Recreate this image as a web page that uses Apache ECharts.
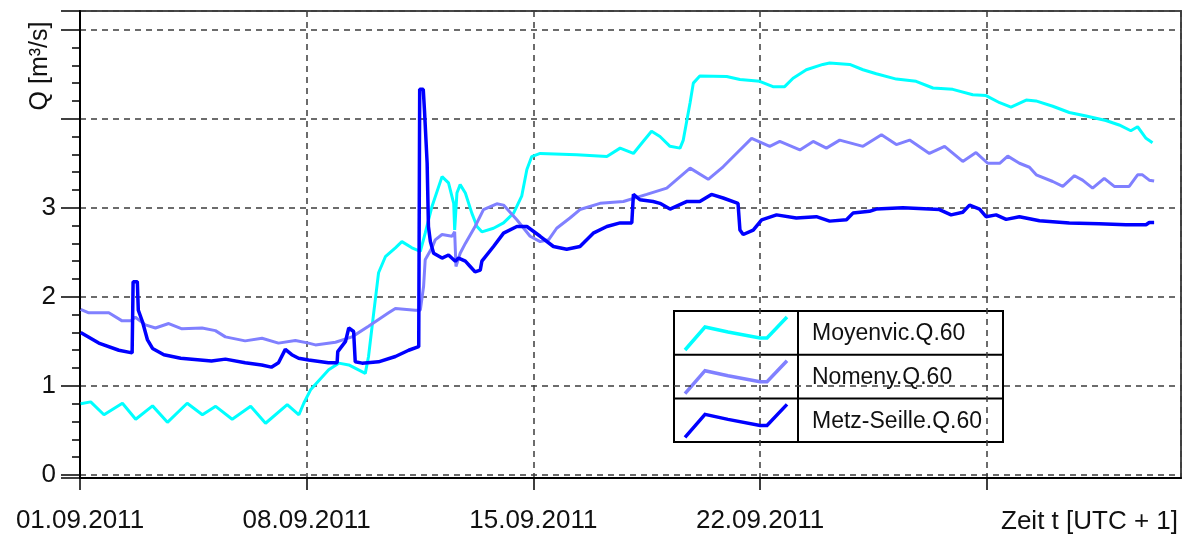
<!DOCTYPE html>
<html>
<head>
<meta charset="utf-8">
<title>Abfluss September 2011</title>
<script src="https://cdn.jsdelivr.net/npm/echarts@6/dist/echarts.min.js"></script>
<style>
  html, body { margin: 0; padding: 0; background: #fff; }
  #main { width: 1182px; height: 537px; }
</style>
</head>
<body>
<div id="main"></div>
<script>
// [day since 01.09.2011 00:00, Q in m³/s]
const moyenvic = [
  [0.02,0.80],[0.33,0.82],[0.74,0.675],[1.31,0.805],[1.72,0.625],[2.24,0.775],[2.70,0.59],[3.31,0.805],
  [3.78,0.675],[4.19,0.77],[4.70,0.625],[5.27,0.77],[5.73,0.58],[6.40,0.79],[6.76,0.675],[6.91,0.805],
  [7.12,0.955],[7.68,1.18],[7.99,1.255],[8.30,1.235],[8.81,1.14],[8.91,1.33],[9.07,1.82],[9.22,2.27],
  [9.43,2.45],[9.74,2.55],[9.94,2.62],[10.25,2.55],[10.51,2.51],[10.66,2.715],[10.87,3.015],[11.18,3.35],
  [11.38,3.28],[11.54,3.05],[11.57,2.75],[11.64,3.165],[11.74,3.26],[11.90,3.165],[12.10,2.94],[12.26,2.79],
  [12.41,2.73],[12.77,2.77],[13.08,2.83],[13.39,2.94],[13.64,3.13],[13.80,3.43],[13.95,3.575],[14.21,3.61],
  [15.34,3.595],[16.27,3.575],[16.68,3.67],[17.09,3.61],[17.39,3.745],[17.65,3.86],[17.91,3.80],[18.22,3.69],
  [18.53,3.67],[18.63,3.76],[18.84,4.18],[18.94,4.40],[19.14,4.48],[19.97,4.475],[20.38,4.44],[20.99,4.42],
  [21.40,4.36],[21.76,4.36],[22.02,4.455],[22.43,4.55],[22.94,4.61],[23.15,4.625],[23.77,4.61],[24.18,4.55],
  [24.59,4.505],[25.21,4.445],[25.82,4.42],[26.34,4.345],[26.95,4.33],[27.57,4.27],[27.98,4.26],[28.40,4.18],
  [28.75,4.13],[29.22,4.21],[29.52,4.20],[30.04,4.14],[30.55,4.07],[31.07,4.03],[31.68,3.98],[32.09,3.93],
  [32.45,3.865],[32.66,3.91],[32.92,3.78],[33.12,3.73]
];
const nomeny = [
  [0.02,1.86],[0.27,1.82],[0.89,1.82],[1.30,1.73],[1.56,1.73],[1.71,1.77],[2.02,1.685],[2.33,1.65],
  [2.74,1.70],[3.15,1.64],[3.77,1.65],[4.18,1.62],[4.49,1.55],[5.10,1.505],[5.62,1.535],[6.13,1.48],
  [6.65,1.51],[7.06,1.48],[7.27,1.46],[7.89,1.49],[8.40,1.55],[8.91,1.67],[9.53,1.82],[9.74,1.87],
  [10.35,1.85],[10.51,1.85],[10.61,2.115],[10.66,2.415],[10.87,2.55],[10.97,2.64],[11.18,2.70],[11.49,2.68],
  [11.57,2.73],[11.61,2.34],[11.74,2.49],[11.90,2.60],[12.20,2.79],[12.46,2.98],[12.87,3.045],[13.08,3.03],
  [13.49,2.865],[13.90,2.68],[14.21,2.62],[14.47,2.64],[14.72,2.77],[15.13,2.885],[15.44,2.98],[16.06,3.05],
  [16.78,3.07],[17.50,3.15],[18.12,3.22],[18.84,3.445],[19.40,3.32],[19.86,3.46],[20.27,3.61],[20.74,3.78],
  [21.30,3.69],[21.61,3.745],[22.23,3.65],[22.64,3.745],[23.05,3.67],[23.46,3.76],[24.18,3.69],[24.75,3.82],
  [25.21,3.71],[25.62,3.76],[26.23,3.61],[26.70,3.69],[27.26,3.52],[27.67,3.62],[28.03,3.50],[28.40,3.50],
  [28.65,3.58],[29.01,3.50],[29.32,3.455],[29.53,3.37],[30.04,3.295],[30.35,3.24],[30.71,3.36],[30.96,3.31],
  [31.27,3.22],[31.63,3.33],[31.94,3.24],[32.40,3.24],[32.66,3.37],[32.81,3.37],[33.02,3.31],[33.17,3.30]
];
const metzSeille = [
  [0.02,1.60],[0.58,1.48],[1.20,1.40],[1.61,1.37],[1.64,2.17],[1.77,2.17],[1.80,1.85],[1.93,1.72],
  [2.08,1.52],[2.24,1.42],[2.59,1.35],[3.11,1.31],[4.06,1.28],[4.49,1.30],[5.10,1.26],[5.61,1.235],
  [5.91,1.21],[6.13,1.26],[6.34,1.41],[6.54,1.35],[6.75,1.31],[7.06,1.29],[7.67,1.26],[7.94,1.26],
  [7.96,1.385],[8.20,1.50],[8.30,1.65],[8.45,1.61],[8.50,1.27],[8.71,1.255],[9.22,1.27],[9.74,1.33],
  [10.15,1.40],[10.46,1.44],[10.49,4.33],[10.60,4.33],[10.64,4.08],[10.72,3.50],[10.76,2.79],[10.82,2.62],
  [10.92,2.49],[11.18,2.435],[11.38,2.47],[11.59,2.40],[11.69,2.435],[11.90,2.40],[12.05,2.34],[12.20,2.28],
  [12.36,2.30],[12.41,2.40],[12.77,2.565],[13.08,2.715],[13.49,2.79],[13.80,2.79],[14.21,2.68],[14.62,2.565],
  [15.03,2.535],[15.44,2.565],[15.85,2.715],[16.27,2.79],[16.68,2.83],[17.04,2.83],[17.09,3.15],[17.29,3.09],
  [17.70,3.07],[17.91,3.05],[18.22,2.985],[18.73,3.07],[19.14,3.07],[19.50,3.15],[19.86,3.11],[20.32,3.05],
  [20.38,2.75],[20.48,2.70],[20.79,2.75],[21.05,2.865],[21.51,2.92],[22.12,2.885],[22.74,2.90],[23.15,2.85],
  [23.67,2.865],[23.87,2.94],[24.38,2.96],[24.59,2.985],[25.41,3.00],[26.23,2.985],[26.54,2.98],[26.90,2.92],
  [27.26,2.95],[27.47,3.03],[27.78,2.985],[27.98,2.90],[28.29,2.92],[28.60,2.87],[29.01,2.90],[29.63,2.855],
  [30.55,2.83],[31.47,2.82],[32.30,2.81],[32.92,2.81],[33.02,2.835],[33.17,2.835]
];

const seriesNames = ['Moyenvic.Q.60', 'Nomeny.Q.60', 'Metz-Seille.Q.60'];
const seriesColors = ['#00ffff', '#8080ff', '#0000ff'];

const xTickDays = [0, 7, 14, 21, 28];
const xTickLabels = ['01.09.2011', '08.09.2011', '15.09.2011', '22.09.2011'];
const yMajorTicks = [0, 1, 2, 3, 4, 5];
const yLabelTicks = [0, 1, 2, 3];

function buildChart() {
  var minorTicks = [];
  for (var i = 0; i < yMajorTicks.length - 1; i++) {
    for (var k = 1; k < 5; k++) minorTicks.push(Math.round((yMajorTicks[i] + k * 0.2) * 10) / 10);
  }

  var axisFont = '"Liberation Sans", Arial, sans-serif';
  function gridLine() { return { type: [6, 5], color: '#3c3c3c', width: 1.5 }; }

  // legend is drawn as a small table like in the original
  var legendEls = [];
  var lx = 674, ly = 311, rowH = 43.7;
  legendEls.push({
    type: 'rect', shape: { x: lx, y: ly, width: 329, height: rowH * 3 },
    style: { fill: '#fff', stroke: '#000', lineWidth: 2 }
  });
  legendEls.push({ type: 'line', shape: { x1: 798, y1: ly, x2: 798, y2: ly + rowH * 3 }, style: { stroke: '#000', lineWidth: 2 } });
  for (var r = 0; r < 3; r++) {
    var rowTop = ly + r * rowH;
    if (r > 0) {
      legendEls.push({ type: 'line', shape: { x1: lx, y1: rowTop, x2: lx + 329, y2: rowTop }, style: { stroke: '#000', lineWidth: 2 } });
    }
    legendEls.push({
      type: 'polyline',
      shape: { points: [[lx + 11, rowTop + 39], [lx + 31, rowTop + 16], [lx + 54, rowTop + 21], [lx + 86, rowTop + 27], [lx + 93, rowTop + 27], [lx + 113, rowTop + 6]] },
      style: { stroke: seriesColors[r], lineWidth: 3.5, fill: null }
    });
    legendEls.push({
      type: 'text', x: 812, y: rowTop + rowH / 2 + 1,
      style: { text: seriesNames[r], fill: '#111', font: '23px "Liberation Sans", Arial, sans-serif', verticalAlign: 'middle' }
    });
  }

  var chart = echarts.init(document.getElementById('main'));
  chart.setOption({
    animation: false,
    backgroundColor: '#fff',
    grid: { left: 80, right: 1, top: 11, bottom: 59, show: true, borderColor: '#4a4a4a', borderWidth: 2 },
    xAxis: {
      type: 'value', min: 0, max: 34, interval: 7,
      axisLine: { onZero: false, lineStyle: { color: '#000', width: 2 } },
      axisTick: { length: 12, lineStyle: { color: '#000', width: 1.5 } },
      axisLabel: {
        margin: 30, color: '#111', fontSize: 26, fontFamily: axisFont, showMaxLabel: false,
        formatter: function (v) { return xTickLabels[xTickDays.indexOf(v)] || ''; }
      },
      splitLine: { show: true, lineStyle: gridLine() }
    },
    yAxis: [{
      type: 'value', min: -0.035, max: 5.21, splitNumber: 5,
      axisLine: { show: true, lineStyle: { color: '#000', width: 2 } },
      axisTick: { show: true, length: 19, lineStyle: { color: '#000', width: 1.5 } },
      axisLabel: {
        margin: 24, color: '#111', fontSize: 26, fontFamily: axisFont,
        formatter: function (v) { return yLabelTicks.indexOf(v) >= 0 ? String(v) : ''; }
      },
      splitLine: { show: true, lineStyle: gridLine() }
    }, {
      // second axis on the same scale only carries the minor ticks
      type: 'value', min: -0.035, max: 5.21, position: 'left',
      axisLine: { show: false },
      axisTick: { show: true, customValues: minorTicks, length: 8, lineStyle: { color: '#000', width: 1.5 } },
      axisLabel: { show: false },
      splitLine: { show: false }
    }],
    graphic: [{
      type: 'text', x: 40, y: 66, rotation: Math.PI / 2,
      style: { text: 'Q [m³/s]', fill: '#111', font: '25px ' + axisFont, align: 'center', verticalAlign: 'middle' }
    }, {
      type: 'text', x: 1178, y: 522,
      style: { text: 'Zeit t [UTC + 1]', fill: '#111', font: '26px ' + axisFont, align: 'right', verticalAlign: 'middle' }
    }, {
      type: 'group', z: 100, children: legendEls
    }],
    series: [
      { name: seriesNames[0], type: 'line', data: moyenvic, showSymbol: false, lineStyle: { color: seriesColors[0], width: 3 } },
      { name: seriesNames[1], type: 'line', data: nomeny, showSymbol: false, lineStyle: { color: seriesColors[1], width: 3 } },
      { name: seriesNames[2], type: 'line', data: metzSeille, showSymbol: false, lineStyle: { color: seriesColors[2], width: 3.5 } }
    ]
  });
  return chart;
}
buildChart();
</script>
</body>
</html>
